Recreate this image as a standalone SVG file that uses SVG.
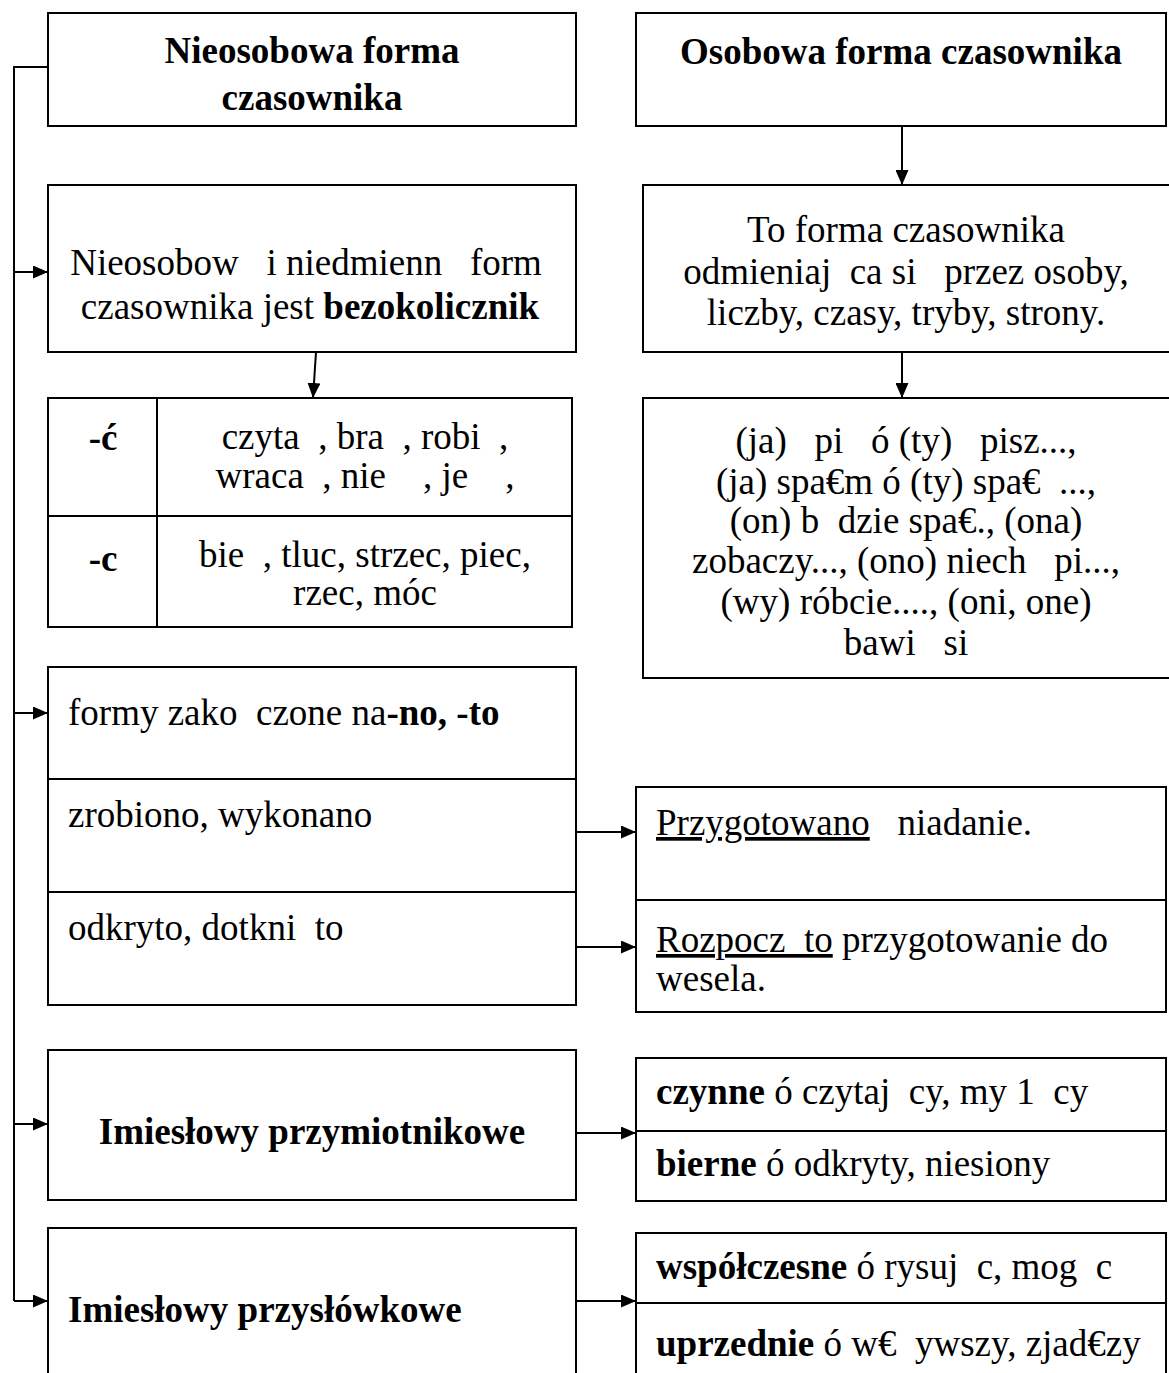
<svg xmlns="http://www.w3.org/2000/svg" width="1169" height="1373" viewBox="0 0 1169 1373">
<style>
.box{fill:#fff;stroke:#000;stroke-width:2}
.ln{fill:none;stroke:#000;stroke-width:2}
text{font-family:"Liberation Serif","Times New Roman",serif;font-size:37px;fill:#000;white-space:pre}
.b{font-weight:bold}
.c{text-anchor:middle}
.u{text-decoration:underline}
</style>
<defs>
<marker id="ah" markerWidth="15" markerHeight="13" refX="15" refY="6.5" orient="auto" markerUnits="userSpaceOnUse">
<path d="M0,0 L15,6.5 L0,13 Z" fill="#000"/>
</marker>
</defs>
<rect width="1169" height="1373" fill="#fff"/>

<g id="connectors">
<polyline class="ln" points="48,67 14,67 14,1301"/>
<line class="ln" x1="14" y1="272" x2="48" y2="272" marker-end="url(#ah)"/>
<line class="ln" x1="14" y1="713" x2="48" y2="713" marker-end="url(#ah)"/>
<line class="ln" x1="14" y1="1124" x2="48" y2="1124" marker-end="url(#ah)"/>
<line class="ln" x1="14" y1="1301" x2="48" y2="1301" marker-end="url(#ah)"/>
<line class="ln" x1="902" y1="126" x2="902" y2="185" marker-end="url(#ah)"/>
<line class="ln" x1="902" y1="352" x2="902" y2="398" marker-end="url(#ah)"/>
<line class="ln" x1="316" y1="352" x2="313" y2="398" marker-end="url(#ah)"/>
<line class="ln" x1="576" y1="832" x2="636" y2="832" marker-end="url(#ah)"/>
<line class="ln" x1="576" y1="947" x2="636" y2="947" marker-end="url(#ah)"/>
<line class="ln" x1="576" y1="1133" x2="636" y2="1133" marker-end="url(#ah)"/>
<line class="ln" x1="576" y1="1301" x2="636" y2="1301" marker-end="url(#ah)"/>
</g>

<g id="n-nieosobowa">
<rect class="box" x="48" y="13" width="528" height="113"/>
<text class="b c" x="312" y="63">Nieosobowa forma</text>
<text class="b c" x="312" y="110">czasownika</text>
</g>

<g id="n-osobowa">
<rect class="box" x="636" y="13" width="530" height="113"/>
<text class="b c" x="901" y="64">Osobowa forma czasownika</text>
</g>

<g id="n-bezokolicznik">
<rect class="box" x="48" y="185" width="528" height="167"/>
<text class="c" x="306" y="275">Nieosobow   i niedmienn   form</text>
<text class="c" x="310" y="319">czasownika jest <tspan class="b">bezokolicznik</tspan></text>
</g>

<g id="n-toforma">
<rect class="box" x="643" y="185" width="530" height="167"/>
<text class="c" x="906" y="242">To forma czasownika</text>
<text class="c" x="906" y="284">odmieniaj  ca si   przez osoby,</text>
<text class="c" x="906" y="325">liczby, czasy, tryby, strony.</text>
</g>

<g id="n-tabela">
<rect class="box" x="48" y="398" width="524" height="229"/>
<line class="ln" x1="157" y1="398" x2="157" y2="627"/>
<line class="ln" x1="48" y1="516" x2="572" y2="516"/>
<text class="b c" x="103" y="450">-ć</text>
<text class="c" x="365" y="449">czyta  , bra  , robi  ,</text>
<text class="c" x="365" y="488">wraca  , nie    , je    ,</text>
<text class="b c" x="103" y="571">-c</text>
<text class="c" x="365" y="567">bie  , tluc, strzec, piec,</text>
<text class="c" x="365" y="605">rzec, móc</text>
</g>

<g id="n-przyklady">
<rect class="box" x="643" y="398" width="530" height="280"/>
<text class="c" x="906" y="453">(ja)   pi   ó (ty)   pisz...,</text>
<text class="c" x="906" y="494">(ja) spa€m ó (ty) spa€  ...,</text>
<text class="c" x="906" y="533">(on) b  dzie spa€., (ona)</text>
<text class="c" x="906" y="573">zobaczy..., (ono) niech   pi...,</text>
<text class="c" x="906" y="614">(wy) róbcie...., (oni, one)</text>
<text class="c" x="906" y="655">bawi   si</text>
</g>

<g id="n-formy">
<rect class="box" x="48" y="667" width="528" height="338"/>
<line class="ln" x1="48" y1="779" x2="576" y2="779"/>
<line class="ln" x1="48" y1="892" x2="576" y2="892"/>
<text x="68" y="725">formy zako  czone na<tspan class="b">-no, -to</tspan></text>
<text x="68" y="827">zrobiono, wykonano</text>
<text x="68" y="940">odkryto, dotkni  to</text>
</g>

<g id="n-zdania">
<rect class="box" x="636" y="787" width="530" height="225"/>
<line class="ln" x1="636" y1="900" x2="1166" y2="900"/>
<text x="656" y="835"><tspan class="u">Przygotowano</tspan>   niadanie.</text>
<text x="656" y="952"><tspan class="u">Rozpocz  to</tspan> przygotowanie do</text>
<text x="656" y="991">wesela.</text>
</g>

<g id="n-przymiotnikowe">
<rect class="box" x="48" y="1050" width="528" height="150"/>
<text class="b c" x="312" y="1144">Imiesłowy przymiotnikowe</text>
</g>

<g id="n-czynne-bierne">
<rect class="box" x="636" y="1058" width="530" height="143"/>
<line class="ln" x1="636" y1="1131" x2="1166" y2="1131"/>
<text x="656" y="1104"><tspan class="b">czynne</tspan> ó czytaj  cy, my 1  cy</text>
<text x="656" y="1176"><tspan class="b">bierne</tspan> ó odkryty, niesiony</text>
</g>

<g id="n-przyslowkowe">
<rect class="box" x="48" y="1228" width="528" height="160"/>
<text class="b" x="68" y="1322">Imiesłowy przysłówkowe</text>
</g>

<g id="n-wspolczesne">
<rect class="box" x="636" y="1233" width="530" height="160"/>
<line class="ln" x1="636" y1="1303" x2="1166" y2="1303"/>
<text x="656" y="1279"><tspan class="b">współczesne</tspan> ó rysuj  c, mog  c</text>
<text x="656" y="1356"><tspan class="b">uprzednie</tspan> ó w€  ywszy, zjad€zy</text>
</g>
</svg>
